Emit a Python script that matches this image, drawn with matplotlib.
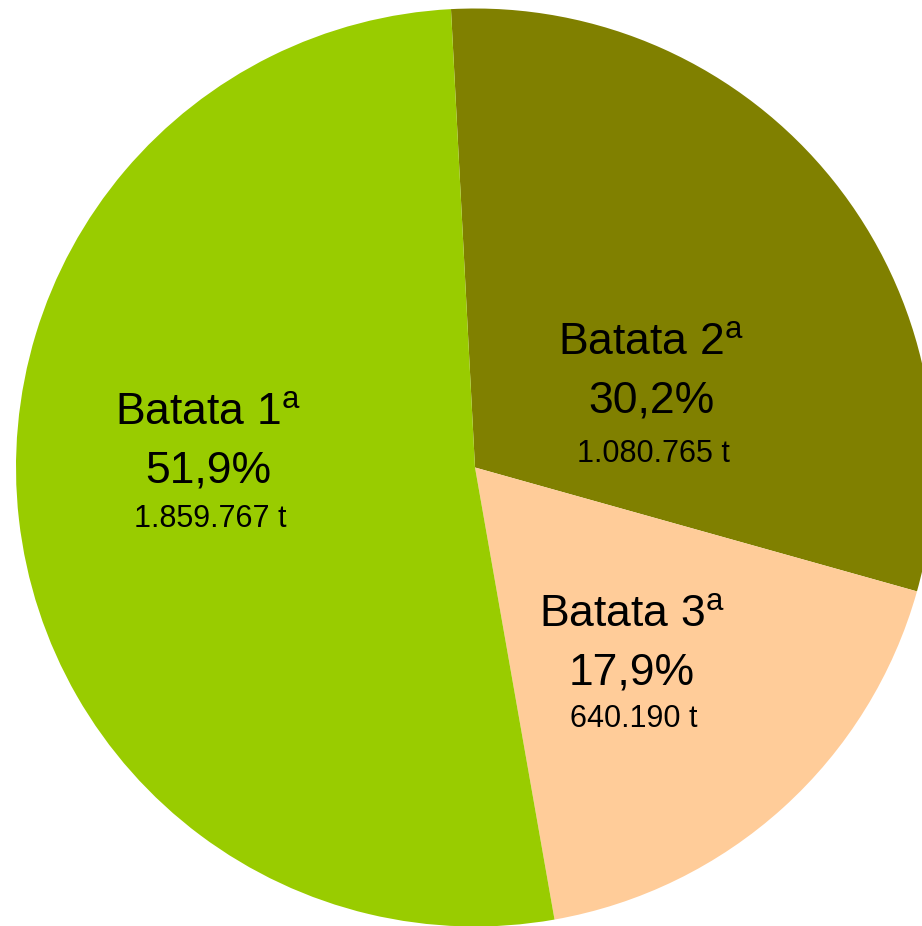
import matplotlib
matplotlib.use("Agg")
import matplotlib.pyplot as plt

plt.rcParams['font.family'] = ['Liberation Sans', 'DejaVu Sans']
plt.rcParams['mathtext.fontset'] = 'custom'
plt.rcParams['mathtext.rm'] = 'Liberation Sans'

# data (tonnes), pie order as drawn clockwise from the top
categories = ["Batata 2", "Batata 3", "Batata 1"]
tonnes = [1080765, 640190, 1859767]
pct_labels = ["30,2%", "17,9%", "51,9%"]
ton_labels = ["1.080.765 t", "640.190 t", "1.859.767 t"]
colors = ["#808000", "#FFCC99", "#99CC00"]

# label anchor points in pixels (x, baselines of the three lines)
label_pos = [(651, (355, 413, 462)),
             (632, (627, 685, 727)),
             (208, (425, 483, 527))]

W, H = 922, 926
fig = plt.figure(figsize=(W / 100, H / 100), dpi=100)
ax = fig.add_axes([0, 0, 1, 1])

ax.pie(tonnes, colors=colors, startangle=93, counterclock=False,
       radius=459, center=(475, H - 467.5),
       wedgeprops=dict(linewidth=0))
ax.set_xlim(0, W)
ax.set_ylim(0, H)
ax.set_aspect('auto')
ax.axis('off')

for name, pct, ton, (x, ys) in zip(categories, pct_labels, ton_labels, label_pos):
    ax.text(x, H - ys[0], name + r"$^{\mathrm{a}}$", ha='center', va='baseline', fontsize=32)
    ax.text(x, H - ys[1], pct, ha='center', va='baseline', fontsize=32)
    ax.text(x + 2, H - ys[2], ton, ha='center', va='baseline', fontsize=22)

fig.savefig("out.png", dpi=100)
